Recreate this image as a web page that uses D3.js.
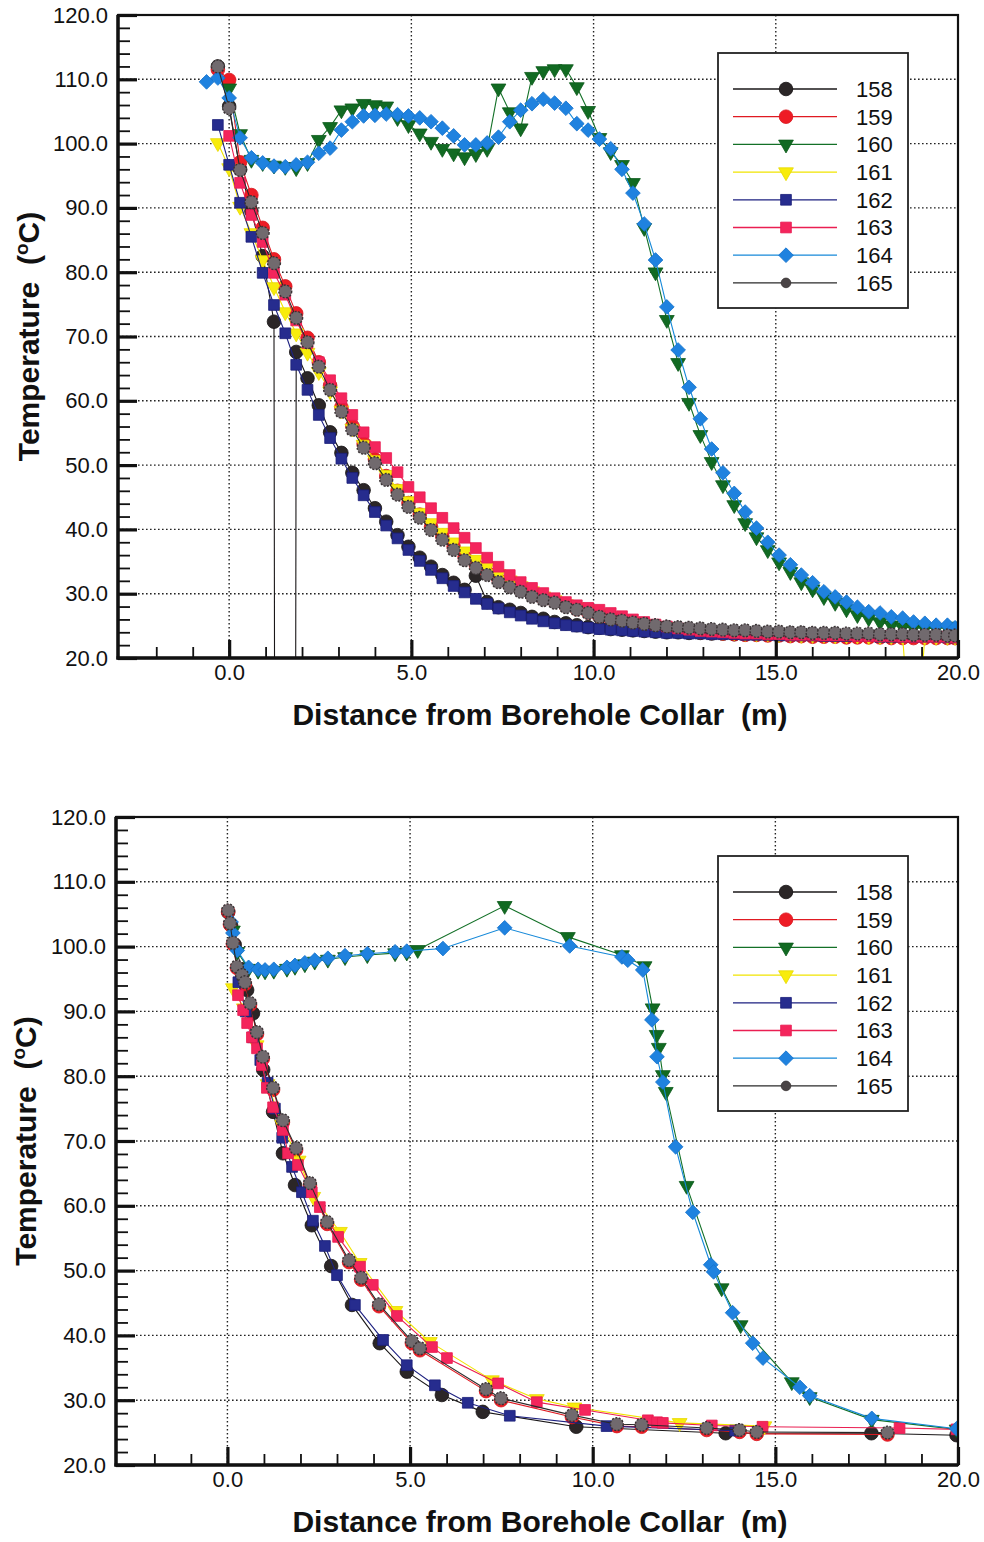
<!DOCTYPE html>
<html>
<head>
<meta charset="utf-8">
<script src="https://cdn.jsdelivr.net/npm/d3@7"></script>
<style>
body { margin: 0; background: #fff; }
svg text { font-family: "Liberation Sans", Arial, Helvetica, sans-serif; fill: #111; }
</style>
</head>
<body>
<svg id="chart" width="984" height="1542"></svg>
<script>
// ---- data ----
var seriesNames = ["158", "159", "160", "161", "162", "163", "164", "165"];

var tempTicks = [20, 30, 40, 50, 60, 70, 80, 90, 100, 110, 120];
var tempGrid = [30, 40, 50, 60, 70, 80, 90, 100, 110];
var distTicks = [0, 5, 10, 15, 20];
var distGrid = [0, 5, 10, 15];

// top plot: every gauge logged at the same stations (about 1 ft apart)
var topDist = [-0.62, -0.31, 0.00, 0.30, 0.61, 0.92, 1.23, 1.54, 1.84, 2.15,
  2.46, 2.77, 3.08, 3.38, 3.69, 4.00, 4.31, 4.62, 4.92, 5.23,
  5.54, 5.85, 6.16, 6.46, 6.77, 7.08, 7.39, 7.70, 8.00, 8.31,
  8.62, 8.93, 9.24, 9.54, 9.85, 10.16, 10.47, 10.78, 11.08, 11.39,
  11.70, 12.01, 12.32, 12.62, 12.93, 13.24, 13.55, 13.86, 14.16, 14.47,
  14.78, 15.09, 15.40, 15.70, 16.01, 16.32, 16.63, 16.94, 17.24, 17.55,
  17.86, 18.17, 18.48, 18.78, 19.09, 19.40, 19.71, 19.92];

// -999 / 0 = gauge drop-outs (off scale)
var top158 = [null, 112.0, 105.8, 96.0, 89.5, 82.5, 72.3, -999, 67.6, 63.5,
  59.3, 55.1, 51.9, 48.8, 46.1, 43.3, 41.2, 39.1, 37.3, 35.6,
  34.2, 32.9, 31.7, 30.6, 32.8, 28.7, 27.9, 27.5, 27.0, 26.4,
  26.1, 25.6, 25.4, 25.1, 24.8, 24.7, 24.5, 24.4, 24.3, 24.2,
  24.1, 24.0, 24.0, 23.9, 23.9, 23.8, 23.8, 23.7, 23.7, 23.7,
  23.6, 23.6, 23.6, 23.6, 23.5, 23.5, 23.5, 23.5, 23.5, 23.4,
  23.4, 23.4, 23.4, 23.4, 23.4, 23.3, 23.3, 23.3];
var top159 = [null, 111.5, 109.9, 97.1, 92.0, 86.9, 82.0, 77.8, 73.6, 69.8,
  66.0, 62.4, 59.0, 56.1, 53.3, 50.9, 48.3, 46.0, 44.1, 42.3,
  40.4, 38.9, 37.3, 35.7, 34.4, 33.3, 32.2, 31.3, 30.6, 29.8,
  29.2, 28.8, 28.1, 27.6, 27.1, 26.5, 26.0, 25.6, 25.2, 24.9,
  24.7, 24.5, 24.3, 24.2, 24.0, 23.9, 23.8, 23.7, 23.6, 23.6,
  23.5, 23.5, 23.4, 23.4, 23.3, 23.3, 23.3, 23.2, 23.2, 23.2,
  23.2, 23.1, 23.1, 23.1, 23.1, 23.1, 23.1, 23.1];
var top160 = [null, null, 108.6, 101.5, 97.5, 97.0, 96.6, 96.4, 96.2, 97.0,
  100.6, 102.6, 105.2, 105.5, 106.2, 106.0, 105.8, 104.0, 102.9, 101.6,
  100.3, 99.2, 98.5, 97.9, 98.4, 99.2, 108.6, 104.9, 102.4, 110.4,
  111.3, 111.6, 111.6, 108.8, 105.1, 100.9, 98.7, 96.7, 93.9, 86.9,
  80.0, 72.6, 65.9, 59.7, 54.7, 50.5, 46.9, 43.8, 41.0, 38.8,
  36.8, 34.9, 33.4, 31.8, 30.7, 29.5, 28.6, 27.6, 26.7, 26.2,
  25.6, 25.1, 24.8, 24.7, 24.6, 24.6, 24.7, 24.9];
var top161 = [null, 100.1, 96.2, 90.2, 86.1, 81.9, 77.7, 73.8, 70.5, 67.5,
  64.5, 61.5, 58.5, 55.7, 53.2, 50.8, 48.5, 46.3, 44.4, 42.6,
  41.0, 39.5, 38.0, 36.6, 35.3, 34.2, 33.1, 32.1, 31.2, 30.4,
  29.6, 29.0, 28.4, 27.9, 27.4, 26.9, 26.4, 26.0, 25.6, 25.3,
  25.0, 24.8, 24.6, 24.4, 24.3, 24.2, 24.1, 24.0, 23.9, 23.8,
  23.8, 23.7, 23.7, 23.6, 23.6, 23.6, 23.5, 23.5, 23.5, 23.4,
  23.4, 23.4, 23.4, 0, 23.3, 23.3, 23.3, 23.3];
var top162 = [null, 102.9, 96.7, 90.8, 85.5, 79.9, 74.9, 70.5, 65.6, 61.7,
  57.8, 54.2, 51.0, 48.0, 45.3, 42.7, 40.6, 38.6, 36.8, 35.1,
  33.7, 32.4, 31.2, 30.2, 29.2, 28.4, 27.7, 27.1, 26.6, 26.1,
  25.7, 25.4, 25.1, 24.9, 24.7, 24.5, 24.4, 24.3, 24.2, 24.1,
  24.0, 23.9, 23.9, 23.8, 23.8, 23.7, 23.7, 23.7, 23.6, 23.6,
  23.6, 23.5, 23.5, 23.5, 23.5, 23.4, 23.4, 23.4, 23.4, 23.4,
  23.3, 23.3, 23.3, 23.3, 23.3, 23.3, 23.2, 23.2];
var top163 = [null, null, 101.2, 93.9, 88.9, 84.7, 79.9, 76.5, 72.5, 69.0,
  66.0, 63.2, 60.4, 57.8, 55.1, 52.8, 51.1, 48.9, 46.6, 45.0,
  43.3, 41.8, 40.2, 38.7, 37.1, 35.6, 34.2, 32.9, 31.8, 30.9,
  30.1, 29.3, 28.7, 28.2, 27.8, 27.5, 27.0, 26.5, 26.0, 25.6,
  25.2, 24.9, 24.6, 24.4, 24.2, 24.1, 24.0, 23.9, 23.8, 23.8,
  23.7, 23.7, 23.6, 23.6, 23.6, 23.5, 23.5, 23.5, 23.4, 23.4,
  23.4, 23.4, 23.3, 23.3, 23.3, 23.3, 23.3, 23.2];
var top164 = [109.6, 110.2, 107.1, 100.9, 97.8, 97.0, 96.5, 96.4, 96.7, 97.1,
  98.5, 99.3, 102.1, 103.4, 104.3, 104.4, 104.6, 104.5, 104.3, 104.0,
  103.4, 102.4, 101.2, 99.8, 99.8, 100.1, 101.0, 103.4, 105.2, 106.2,
  106.9, 106.3, 105.5, 103.1, 102.1, 100.7, 99.2, 96.0, 92.3, 87.5,
  81.9, 74.6, 67.9, 62.1, 57.2, 52.5, 48.8, 45.6, 42.7, 40.2,
  38.0, 36.0, 34.5, 32.9, 31.7, 30.3, 29.5, 28.7, 27.9, 27.2,
  27.0, 26.4, 26.2, 25.6, 25.4, 25.1, 25.1, 24.7];
var top165 = [null, 112.0, 105.5, 95.9, 90.9, 86.1, 81.4, 77.0, 72.9, 69.1,
  65.3, 61.7, 58.3, 55.5, 52.7, 50.3, 47.7, 45.4, 43.5, 41.8,
  39.9, 38.4, 36.8, 35.2, 34.0, 32.9, 31.8, 31.0, 30.3, 29.5,
  29.0, 28.6, 27.9, 27.5, 27.0, 26.4, 26.0, 25.8, 25.5, 25.3,
  25.1, 24.9, 24.8, 24.7, 24.6, 24.5, 24.4, 24.3, 24.3, 24.2,
  24.1, 24.1, 24.0, 24.0, 23.9, 23.9, 23.9, 23.8, 23.8, 23.8,
  23.7, 23.7, 23.7, 23.6, 23.6, 23.6, 23.5, 23.5];

// bottom plot: [distance (m), temperature (C)]
var bot158 = [[0.02, 105.3], [0.10, 103.3], [0.20, 100.3], [0.40, 96.5], [0.54, 93.3], [0.70, 89.7],
  [0.98, 81.0], [1.25, 74.5], [1.52, 68.1], [1.85, 63.2], [2.31, 57.0], [2.84, 50.7], [3.41, 44.7],
  [4.17, 38.8], [4.91, 34.4], [5.87, 30.8], [6.99, 28.2], [9.55, 25.9], [13.64, 24.9], [17.63, 24.9],
  [19.96, 24.6]];
var bot159 = [[0.02, 105.4], [0.07, 103.4], [0.15, 100.4], [0.26, 96.7], [0.40, 95.3], [0.48, 94.2],
  [0.62, 91.0], [0.81, 86.5], [0.97, 82.7], [1.25, 77.9], [1.52, 72.9], [1.88, 68.6], [2.26, 63.2],
  [2.73, 57.2], [3.33, 51.3], [3.66, 48.6], [4.15, 44.5], [5.05, 38.8], [5.27, 37.7], [7.08, 31.4],
  [7.49, 30.0], [9.43, 27.4], [10.66, 26.0], [11.34, 25.9], [13.12, 25.4], [14.02, 25.1],
  [14.49, 24.8], [18.07, 24.7]];
var bot160 = [[0.15, 102.5], [0.27, 99.2], [0.58, 96.6], [0.84, 96.3], [1.03, 96.2], [1.27, 96.3],
  [1.63, 96.6], [1.85, 96.9], [2.12, 97.3], [2.39, 97.7], [2.75, 98.0], [3.22, 98.4], [3.83, 98.7],
  [4.59, 99.0], [4.91, 99.1], [5.21, 99.5], [7.59, 106.3], [9.32, 101.5], [10.80, 98.7], [11.42, 97.0],
  [11.64, 90.5], [11.75, 86.4], [11.81, 84.4], [11.92, 80.2], [12.00, 77.6], [12.57, 63.1],
  [13.53, 47.3], [14.05, 41.6], [15.45, 32.8], [15.94, 30.5], [17.64, 27.0], [19.96, 25.5]];
var bot161 = [[0.15, 93.6], [0.45, 90.5], [0.80, 84.8], [1.10, 78.8], [1.50, 72.5], [1.95, 67.0],
  [2.35, 61.4], [3.08, 56.0], [3.62, 51.2], [4.60, 43.8], [5.54, 39.0], [7.24, 33.1], [8.47, 30.2],
  [9.50, 28.9], [12.38, 26.5], [14.70, 26.0]];
var bot162 = [[0.30, 94.5], [0.50, 90.0], [0.70, 86.0], [0.90, 82.5], [1.10, 79.0], [1.30, 75.0],
  [1.50, 70.5], [1.77, 66.0], [2.04, 62.1], [2.34, 57.7], [2.67, 53.8], [3.00, 49.3], [3.49, 44.7],
  [4.26, 39.3], [4.91, 35.4], [5.68, 32.3], [6.58, 29.6], [7.73, 27.6], [10.38, 26.0], [13.90, 25.3]];
var bot163 = [[0.29, 92.5], [0.43, 90.2], [0.54, 88.2], [0.67, 86.0], [0.81, 84.3], [0.95, 81.7],
  [1.08, 78.2], [1.25, 75.2], [1.52, 71.7], [1.66, 68.1], [1.93, 66.3], [2.31, 62.1], [2.53, 59.8],
  [3.03, 55.2], [3.63, 50.6], [3.98, 47.8], [4.64, 43.0], [5.60, 38.2], [6.01, 36.5], [7.41, 32.6],
  [8.47, 29.7], [9.79, 28.5], [11.51, 26.9], [11.76, 26.6], [11.92, 26.5], [13.26, 26.1],
  [14.65, 25.9], [18.40, 25.7], [19.96, 25.5]];
var bot164 = [[0.10, 103.8], [0.15, 102.1], [0.27, 99.4], [0.58, 96.8], [0.84, 96.5], [1.03, 96.4],
  [1.27, 96.5], [1.63, 96.8], [1.85, 97.1], [2.12, 97.5], [2.39, 97.9], [2.75, 98.2], [3.22, 98.6],
  [3.83, 98.9], [4.59, 99.2], [4.91, 99.3], [5.90, 99.7], [7.59, 102.9], [9.37, 100.1], [10.80, 98.4],
  [10.96, 97.9], [11.37, 96.4], [11.62, 88.7], [11.76, 83.0], [11.92, 79.1], [12.27, 69.1],
  [12.74, 59.0], [13.23, 50.9], [13.31, 49.8], [13.83, 43.5], [14.38, 38.8], [14.66, 36.5],
  [15.67, 32.0], [15.94, 30.7], [17.64, 27.2], [19.96, 25.6]];
var bot165 = [[0.02, 105.6], [0.07, 103.6], [0.15, 100.6], [0.26, 96.9], [0.40, 95.6], [0.48, 94.5],
  [0.62, 91.3], [0.81, 86.8], [0.97, 83.0], [1.25, 78.2], [1.52, 73.2], [1.88, 68.9], [2.26, 63.5],
  [2.73, 57.5], [3.33, 51.6], [3.66, 48.9], [4.15, 44.8], [5.05, 39.1], [5.27, 38.0], [7.08, 31.7],
  [7.49, 30.3], [9.43, 27.7], [10.66, 26.3], [11.34, 26.2], [13.12, 25.7], [14.02, 25.4],
  [14.49, 25.1], [18.07, 25.0]];

// ---- styles ----
var seriesStyle = {
  "158": {line: "#1a1718", fill: "#2b2627", stroke: "#151213", shape: "circle"},
  "159": {line: "#e01a22", fill: "#ee1c25", stroke: "#d8141c", shape: "circle"},
  "160": {line: "#137027", fill: "#116a22", stroke: "#0c5a1a", shape: "down"},
  "161": {line: "#f1e400", fill: "#f8ec0c", stroke: "#e6d800", shape: "down"},
  "162": {line: "#1d2180", fill: "#262c8e", stroke: "#1a1e78", shape: "square"},
  "163": {line: "#ea1f52", fill: "#f4255c", stroke: "#e81a50", shape: "square"},
  "164": {line: "#1689d9", fill: "#1f82df", stroke: "#1774cc", shape: "diamond"},
  "165": {line: "#2a2a2a", fill: "#716a6e", stroke: "#3a3335", shape: "blob"}
};

var svg = d3.select("#chart");
var fontFam = '"Liberation Sans", Arial, Helvetica, sans-serif';

function symbolFor(shape, scale) {
  var s = scale || 1;
  if (shape == "circle") return d3.symbol().type(d3.symbolCircle).size(145 * s * s)();
  if (shape == "blob") return d3.symbol().type(d3.symbolCircle).size(130 * s * s)();
  if (shape == "down") return d3.symbol().type(d3.symbolTriangle).size(95 * s * s)();
  if (shape == "square") return d3.symbol().type(d3.symbolSquare).size(115 * s * s)();
  return d3.symbol().type(d3.symbolSquare).size(108 * s * s)();
}
function symbolTurn(shape) {
  if (shape == "down") return " rotate(180)";
  if (shape == "diamond") return " rotate(45)";
  return "";
}

function drawPanel(cfg) {
  var g = svg.append("g");
  var x = d3.scaleLinear().domain([-3.05, 20]).range([cfg.left, cfg.right]);
  var y = d3.scaleLinear().domain([20, 120]).range([cfg.bottom, cfg.top]);

  svg.append("clipPath").attr("id", "clip" + cfg.id).append("rect")
    .attr("x", cfg.left).attr("y", cfg.top)
    .attr("width", cfg.right - cfg.left).attr("height", cfg.bottom - cfg.top);

  // dotted grid
  g.selectAll(".hg").data(tempGrid).enter().append("line")
    .attr("x1", cfg.left).attr("x2", cfg.right)
    .attr("y1", function(d){ return y(d) }).attr("y2", function(d){ return y(d) })
    .attr("stroke", "#222").attr("stroke-width", 1.4).attr("stroke-dasharray", "1.6,2.4");
  g.selectAll(".vg").data(distGrid).enter().append("line")
    .attr("y1", cfg.top).attr("y2", cfg.bottom)
    .attr("x1", function(d){ return x(d) }).attr("x2", function(d){ return x(d) })
    .attr("stroke", "#222").attr("stroke-width", 1.4).attr("stroke-dasharray", "1.6,2.4");

  var line = d3.line()
    .x(function(d){ return x(d[0]) })
    .y(function(d){ return y(d[1]) });

  var plot = g.append("g").attr("clip-path", "url(#clip" + cfg.id + ")");
  seriesNames.forEach(function(name){
    var pts = cfg.series[name];
    var st = seriesStyle[name];
    plot.append("path")
      .datum(pts)
      .attr("fill", "none")
      .attr("stroke", st.line)
      .attr("stroke-width", 1.1)
      .attr("d", line);
    plot.append("g").selectAll("path").data(pts).enter().append("path")
      .attr("d", symbolFor(st.shape))
      .attr("transform", function(d){ return "translate(" + x(d[0]) + "," + y(d[1]) + ")" + symbolTurn(st.shape) })
      .attr("fill", st.fill)
      .attr("stroke", st.stroke)
      .attr("stroke-width", st.shape == "blob" ? 1.4 : 0.8)
      .attr("stroke-dasharray", st.shape == "blob" ? "2,1.5" : null);
  });

  // frame
  g.append("rect")
    .attr("x", cfg.left).attr("y", cfg.top)
    .attr("width", cfg.right - cfg.left).attr("height", cfg.bottom - cfg.top)
    .attr("fill", "none").attr("stroke", "#111").attr("stroke-width", 2.2);
  g.append("line").attr("x1", cfg.left).attr("x2", cfg.left)
    .attr("y1", cfg.top).attr("y2", cfg.bottom + 1.5)
    .attr("stroke", "#111").attr("stroke-width", 3.5);
  g.append("line").attr("x1", cfg.left - 1.5).attr("x2", cfg.right)
    .attr("y1", cfg.bottom).attr("y2", cfg.bottom)
    .attr("stroke", "#111").attr("stroke-width", 3.5);

  // axes, ticks pointing inwards
  var tempMinor = d3.range(22, 120, 2).filter(function(d){ return d % 10 != 0 });
  var distMinor = d3.range(-2, 20, 1).filter(function(d){ return d % 5 != 0 });

  var yMajor = g.append("g").attr("transform", "translate(" + cfg.left + ",0)")
    .call(d3.axisLeft(y).tickValues(tempTicks).tickSize(-19).tickPadding(10).tickFormat(d3.format(".1f")));
  var yMinor = g.append("g").attr("transform", "translate(" + cfg.left + ",0)")
    .call(d3.axisLeft(y).tickValues(tempMinor).tickSize(-12).tickFormat(""));
  var xMajor = g.append("g").attr("transform", "translate(0," + cfg.bottom + ")")
    .call(d3.axisBottom(x).tickValues(distTicks).tickSize(-18).tickPadding(6).tickFormat(d3.format(".1f")));
  var xMinor = g.append("g").attr("transform", "translate(0," + cfg.bottom + ")")
    .call(d3.axisBottom(x).tickValues(distMinor).tickSize(-11).tickFormat(""));

  [yMajor, yMinor, xMajor, xMinor].forEach(function(a){ a.select(".domain").remove() });
  [yMajor, xMajor].forEach(function(a){
    a.selectAll("line").attr("stroke", "#111").attr("stroke-width", 3.2);
    a.selectAll("text").attr("font-size", 22).attr("font-family", fontFam).attr("fill", "#161616");
  });
  [yMinor, xMinor].forEach(function(a){
    a.selectAll("line").attr("stroke", "#111").attr("stroke-width", 1.8);
  });

  // axis titles
  var yt = g.append("text")
    .attr("transform", "translate(" + cfg.yTitleX + "," + ((cfg.top + cfg.bottom) / 2) + ") rotate(-90)")
    .attr("text-anchor", "middle")
    .attr("font-size", 30).attr("font-weight", "bold")
    .style("white-space", "pre");
  yt.append("tspan").text("Temperature  (");
  yt.append("tspan").attr("font-size", 19).attr("dy", -11).text("o");
  yt.append("tspan").attr("dy", 11).text("C)");

  g.append("text")
    .attr("x", 540).attr("y", cfg.xTitleY)
    .attr("text-anchor", "middle")
    .attr("font-size", 30).attr("font-weight", "bold")
    .style("white-space", "pre")
    .text("Distance from Borehole Collar  (m)");

  // legend
  var lg = g.append("g");
  lg.append("rect")
    .attr("x", cfg.legend.x).attr("y", cfg.legend.y)
    .attr("width", 190).attr("height", 255)
    .attr("fill", "#fff").attr("stroke", "#222").attr("stroke-width", 1.8);
  var ly = d3.scalePoint().domain(seriesNames)
    .range([cfg.legend.y + 36, cfg.legend.y + 36 + 7 * 27.7]);
  seriesNames.forEach(function(name){
    var st = seriesStyle[name];
    var cy = ly(name);
    lg.append("line")
      .attr("x1", cfg.legend.x + 15).attr("x2", cfg.legend.x + 119)
      .attr("y1", cy).attr("y2", cy)
      .attr("stroke", st.line).attr("stroke-width", 1.3);
    lg.append("path")
      .attr("d", symbolFor(st.shape, st.shape == "blob" ? 0.75 : 1))
      .attr("transform", "translate(" + (cfg.legend.x + 68) + "," + cy + ")" + symbolTurn(st.shape))
      .attr("fill", st.shape == "blob" ? "#4a4446" : st.fill)
      .attr("stroke", st.stroke).attr("stroke-width", 0.8);
    lg.append("text")
      .attr("x", cfg.legend.x + 138).attr("y", cy + 7.8)
      .attr("font-size", 22)
      .text(name);
  });
}

function onGrid(vals) {
  return topDist.map(function(d, i){ return [d, vals[i]] })
    .filter(function(p){ return p[1] != null });
}

drawPanel({
  id: "top", left: 118, right: 958, top: 15, bottom: 658,
  yTitleX: 39, xTitleY: 725,
  legend: {x: 718, y: 53},
  series: {
    "158": onGrid(top158), "159": onGrid(top159), "160": onGrid(top160), "161": onGrid(top161),
    "162": onGrid(top162), "163": onGrid(top163), "164": onGrid(top164), "165": onGrid(top165)
  }
});

drawPanel({
  id: "bot", left: 116, right: 958, top: 817, bottom: 1465,
  yTitleX: 36, xTitleY: 1532,
  legend: {x: 718, y: 856},
  series: {
    "158": bot158, "159": bot159, "160": bot160, "161": bot161,
    "162": bot162, "163": bot163, "164": bot164, "165": bot165
  }
});
</script>
</body>
</html>
